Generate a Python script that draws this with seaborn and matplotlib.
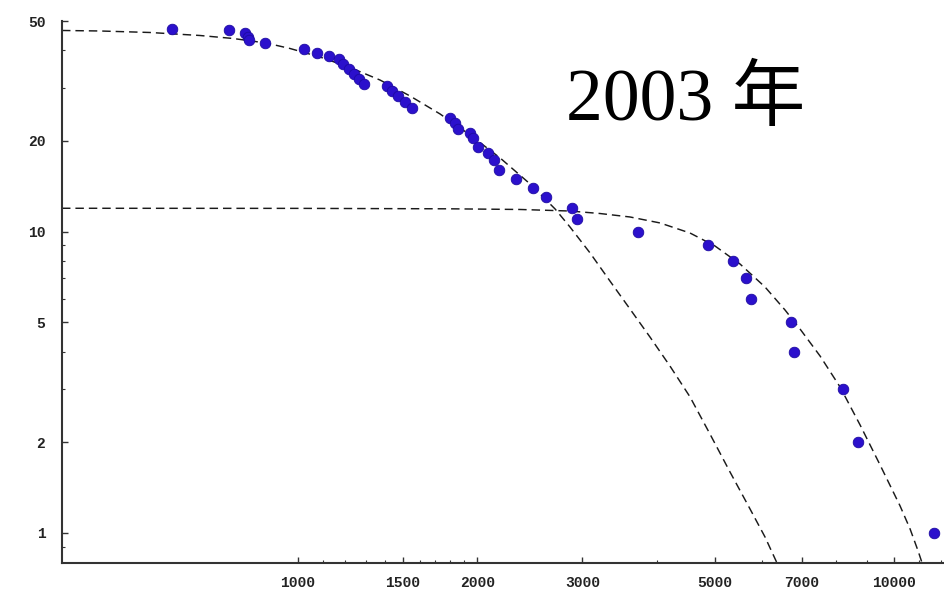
import matplotlib
matplotlib.use("Agg")
import matplotlib.pyplot as plt
import seaborn as sns
from matplotlib.ticker import FixedLocator, FixedFormatter, NullFormatter

# Observed sizes and their ranks (log-log rank-size data)
size = [614, 767, 815, 823, 828, 880, 1023, 1075, 1127, 1172, 1191, 1219,
        1242, 1268, 1290, 1411, 1436, 1473, 1512, 1551, 1799, 1834, 1858,
        1944, 1969, 2007, 2086, 2133, 2177, 2322, 2476, 2607, 2879, 2935,
        3724, 4880, 5375, 5640, 5750, 6709, 6795, 8202, 8711, 11670]
rank = [47.1, 46.7, 45.6, 44.4, 43.3, 42.2, 40.4, 39.1, 38.4, 37.3, 35.9, 34.6,
        33.3, 32.1, 30.9, 30.4, 29.2, 28.1, 26.9, 25.8, 23.8, 22.9, 21.9,
        21.2, 20.4, 19.1, 18.2, 17.3, 16.0, 15.0, 14.0, 13.0, 12.0, 11.0,
        10, 9, 8, 7, 6, 5, 4, 3, 2, 1]

# Fitted curve for the upper (small-size) regime
fit_a_size = [402, 465.4, 564.6, 684.8, 778.1, 883.7, 969.6, 1088.7, 1222.6,
              1372.9, 1541.8, 1731.2, 1944.3, 2183.2, 2451.6, 2699.4, 2860.5,
              3090.4, 3337.0, 3605.4, 3895.5, 4208.5, 4546.2, 4911, 5306,
              5732, 6074, 6362, 6450]
fit_a_rank = [46.54, 46.36, 45.83, 44.79, 43.78, 42.30, 40.56, 38.00, 35.08,
              31.87, 28.21, 24.59, 20.94, 17.57, 14.40, 11.90, 10.36, 8.50,
              6.86, 5.54, 4.47, 3.58, 2.83, 2.13, 1.594, 1.202, 0.970, 0.795,
              0.74]

# Fitted curve for the lower (large-size) regime
fit_b_size = [402, 1007.8, 1798.9, 2358.7, 2860.5, 3210.9, 3605.4, 4049.6,
              4546.2, 5006.9, 5515.7, 6074, 6562, 6953.9, 7513, 8116.9,
              8769.7, 9474.6, 10234.5, 10638, 10972, 11143, 11300]
fit_b_rank = [11.96, 11.95, 11.91, 11.85, 11.71, 11.49, 11.19, 10.69, 9.90,
              8.965, 7.81, 6.554, 5.497, 4.754, 3.868, 3.052, 2.283, 1.681,
              1.2295, 1.031, 0.8717, 0.795, 0.74]

x_ticks = [1000, 1500, 2000, 3000, 5000, 7000, 10000]
x_labels = ["1000", "1500", "2000", "3000", "5000", "7000", "10000"]
x_minor = [1100, 1200, 1300, 1400, 1600, 1700, 1800, 1900, 4000, 6000,
           8000, 9000, 11000, 12000]
y_ticks = [1, 2, 5, 10, 20, 50]
y_labels = ["1", "2", "5", "10", "20", "50"]
y_minor = [0.9, 3, 4, 6, 7, 8, 9, 30, 40]

title_text = "2003 年"

sns.set_theme(style="white")
plt.rcParams["font.family"] = ["Liberation Mono", "DejaVu Sans"]

fig = plt.figure(figsize=(9.44, 5.90), dpi=100)
ax = fig.add_axes([62 / 944, (590 - 562.5) / 590, (943 - 62) / 944,
                   (562.5 - 20.7) / 590])
ax.set_xscale("log")
ax.set_yscale("log")

for xs, ys in ((fit_a_size, fit_a_rank), (fit_b_size, fit_b_rank)):
    sns.lineplot(x=xs, y=ys, ax=ax, sort=False, estimator=None,
                 color="#1a1a1a", linewidth=1.05, zorder=2)
    ax.lines[-1].set_dashes((5.8, 3.4))

sns.scatterplot(x=size, y=rank, ax=ax, s=58, color="#2b10cc",
                edgecolor="#1d0aa2", linewidth=0.6, zorder=3)

ax.set_xlim(402, 12080)
ax.set_ylim(0.798, 50.15)

ax.xaxis.set_major_locator(FixedLocator(x_ticks))
ax.xaxis.set_major_formatter(FixedFormatter(x_labels))
ax.xaxis.set_minor_locator(FixedLocator(x_minor))
ax.xaxis.set_minor_formatter(NullFormatter())
ax.yaxis.set_major_locator(FixedLocator(y_ticks))
ax.yaxis.set_major_formatter(FixedFormatter(y_labels))
ax.yaxis.set_minor_locator(FixedLocator(y_minor))
ax.yaxis.set_minor_formatter(NullFormatter())

ax.tick_params(which="both", direction="in", top=False, right=False,
               bottom=True, left=True, color="#333333", labelcolor="#222222")
ax.tick_params(which="major", length=4.3, width=1.0, labelsize=10.5)
ax.tick_params(which="minor", length=2.5, width=0.8)
ax.tick_params(axis="x", which="major", pad=10)
ax.tick_params(axis="y", which="major", pad=12)
for lab in ax.get_xticklabels() + ax.get_yticklabels():
    lab.set_fontweight("bold")

for side in ("top", "right"):
    ax.spines[side].set_visible(False)
for side in ("left", "bottom"):
    ax.spines[side].set_linewidth(1.5)
    ax.spines[side].set_color("#333333")
ax.set_xlabel("")
ax.set_ylabel("")
ax.grid(False)

fig.text(566 / 944, 1 - 119.5 / 590, title_text, fontsize=53,
         family=["Liberation Serif", "Noto Sans CJK SC"],
         ha="left", va="baseline", color="black")

fig.savefig("out.png", dpi=100, facecolor="white")
